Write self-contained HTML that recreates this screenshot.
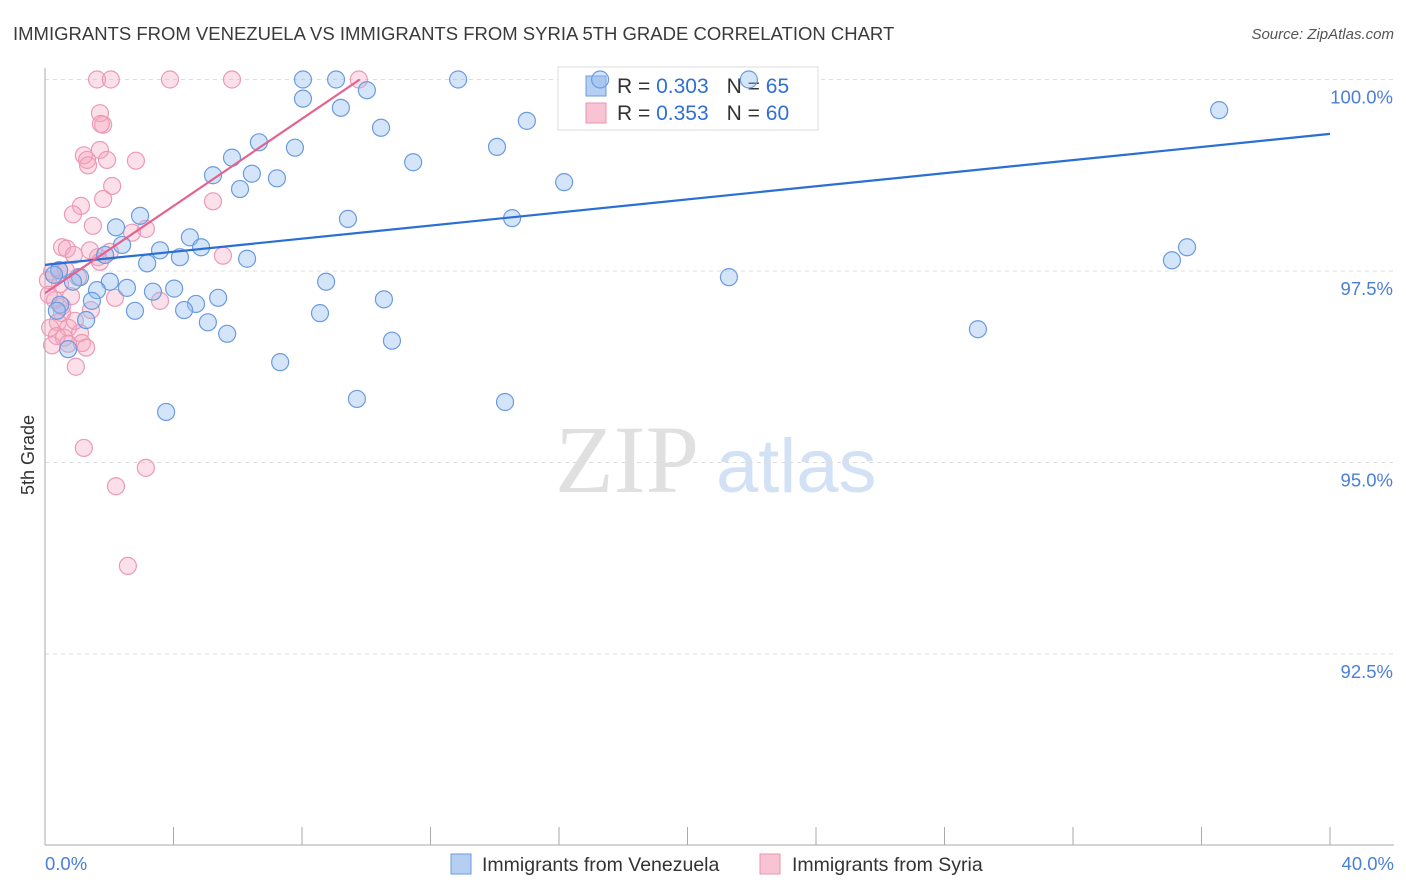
<!DOCTYPE html>
<html><head><meta charset="utf-8"><style>
body{margin:0;background:#fff;font-family:"Liberation Sans",sans-serif;}
svg{display:block}
</style></head><body>
<svg id="c" width="1406" height="892">
<text x="13" y="40" font-size="18.5" fill="#3a3a3a">IMMIGRANTS FROM VENEZUELA VS IMMIGRANTS FROM SYRIA 5TH GRADE CORRELATION CHART</text>
<text x="1394" y="39" font-size="15" fill="#555" font-style="italic" text-anchor="end">Source: ZipAtlas.com</text>
<text x="555" y="492" font-size="96" fill="#e0e0e0" font-family="Liberation Serif,serif">ZIP</text>
<text x="716" y="492" font-size="76" fill="#d2e1f4">atlas</text>
<text transform="translate(34,455) rotate(-90)" font-size="18" fill="#333" text-anchor="middle">5th Grade</text>
<g id="grid"></g>
<g>
<rect x="558" y="67" width="260" height="63" fill="#fff" stroke="#ddd"/>
<rect x="586" y="76" width="20" height="20" fill="#b5cff3" stroke="#6a9be0"/>
<rect x="586" y="103" width="20" height="20" fill="#f8c3d3" stroke="#e995b0"/>
<text x="617" y="93" font-size="21" fill="#333">R = <tspan fill="#2f6fd6">0.303</tspan><tspan dx="18">N = </tspan><tspan fill="#2f6fd6">65</tspan></text>
<text x="617" y="120" font-size="21" fill="#333">R = <tspan fill="#2f6fd6">0.353</tspan><tspan dx="18">N = </tspan><tspan fill="#2f6fd6">60</tspan></text>
</g>
<g id="pts"></g><g id="lines"></g>
<g>
<rect x="451" y="854" width="20" height="20" fill="#b5cff3" stroke="#6a9be0"/>
<text x="482" y="871" font-size="19.5" fill="#333">Immigrants from Venezuela</text>
<rect x="760" y="854" width="20" height="20" fill="#f8c3d3" stroke="#e995b0"/>
<text x="792" y="871" font-size="19.5" fill="#333">Immigrants from Syria</text>
</g>
<text x="45" y="870" font-size="18.5" fill="#4a7fd8">0.0%</text>
<text x="1394" y="870" font-size="18.5" fill="#4a7fd8" text-anchor="end">40.0%</text>
</svg>
<script>
const yTicks=[100,97.5,95,92.5];
const yTickLabels=["100.0%","97.5%","95.0%","92.5%"];
const blueX=[8.03,9.06,12.86,17.28,21.91,8.03,10.02,9.21,10.46,6.66,7.78,5.82,11.46,14.07,15.00,36.55,5.23,6.44,7.22,6.07,16.16,2.96,2.21,9.43,14.54,4.51,2.40,3.58,4.86,4.20,6.29,3.18,1.87,35.55,35.08,0.44,1.09,0.87,2.02,8.75,21.29,1.62,2.55,3.36,4.02,5.39,4.70,4.33,1.46,0.47,10.55,2.80,0.37,8.56,5.07,1.28,5.67,10.80,29.04,0.72,7.32,3.77,9.71,14.32,0.28];
const blueY=[100,100,100,100,100,99.75,99.86,99.63,99.37,99.18,99.11,98.98,98.92,99.12,99.46,99.60,98.75,98.77,98.71,98.57,98.66,98.22,98.07,98.18,98.19,97.94,97.84,97.77,97.81,97.68,97.66,97.60,97.71,97.81,97.64,97.51,97.42,97.36,97.36,97.36,97.42,97.25,97.28,97.23,97.27,97.15,97.07,96.99,97.11,97.06,97.13,96.98,96.98,96.95,96.83,96.86,96.68,96.59,96.74,96.48,96.31,95.66,95.83,95.79,97.45];
const pinkX=[1.62,2.05,3.89,5.82,9.77,1.71,1.81,1.74,1.21,1.31,1.71,1.93,1.34,2.83,2.09,1.81,5.23,1.12,0.87,1.49,3.14,2.71,0.53,0.68,0.90,1.40,2.02,1.65,5.54,1.71,0.44,0.22,0.65,0.47,0.81,1.03,0.31,2.18,3.58,1.43,0.53,0.40,0.72,1.09,0.16,0.37,0.59,1.15,1.28,0.72,0.22,0.96,1.21,3.14,2.21,2.58,0.09,0.12,0.53,0.93];
const pinkY=[100,100,100,100,100,99.56,99.41,99.42,99.01,98.95,99.08,98.95,98.88,98.94,98.61,98.44,98.41,98.35,98.24,98.09,98.05,98.00,97.81,97.79,97.71,97.77,97.75,97.68,97.70,97.62,97.51,97.49,97.51,97.33,97.17,97.42,97.12,97.15,97.11,96.99,96.95,96.83,96.76,96.69,96.76,96.65,96.63,96.56,96.50,96.55,96.53,96.25,95.19,94.93,94.69,93.65,97.38,97.19,97.04,96.85];
const blueTrend=[[0,97.58],[40,99.29]];
const pinkTrend=[[0,97.21],[9.8,100]];
const xTicks=[0,4,8,12,16,20,24,28,32,36,40];

const NS="http://www.w3.org/2000/svg";
const X=v=>45+v/40*1285;
const Y=v=>79.5+(100-v)*76.6;
function mk(tag,attrs,parent){const e=document.createElementNS(NS,tag);for(const k in attrs)e.setAttribute(k,attrs[k]);parent.appendChild(e);return e;}
const grid=document.getElementById('grid');
yTicks.forEach((t,i)=>{
  const l=mk('line',{x1:45,x2:1394,y1:Y(t),y2:Y(t),stroke:'#ddd','stroke-dasharray':'4,4'},grid);
  
  
  const tx=mk('text',{x:1393,y:Y(t)+24,'font-size':18.5,fill:'#4a7fd8','text-anchor':'end'},grid);
  tx.textContent=yTickLabels[i];
  
  
});
const ax=mk('line',{x1:45,x2:45,y1:68,y2:845,stroke:'#aaa'},grid);


const bx=mk('line',{x1:45,x2:1394,y1:845,y2:845,stroke:'#aaa'},grid);


xTicks.forEach(t=>{
  const l=mk('line',{x1:X(t),x2:X(t),y1:827,y2:845,stroke:'#aaa'},grid);
  
  
});
const pts=document.getElementById('pts');
function draw(xs,ys,fill,stroke,name){
  xs.forEach((v,i)=>{
    const c=mk('circle',{cx:X(v),cy:Y(ys[i]),r:8.5,fill:fill,stroke:stroke,'stroke-width':1.2},pts);
    
    
  });
}
draw(pinkX,pinkY,'rgba(245,165,192,0.35)','#eb9ab5','syria-point');
draw(blueX,blueY,'rgba(150,190,240,0.4)','#6a9be0','venezuela-point');
const lines=document.getElementById('lines');
const bl=mk('line',{x1:X(blueTrend[0][0]),y1:Y(blueTrend[0][1]),x2:X(blueTrend[1][0]),y2:Y(blueTrend[1][1]),stroke:'#2a6fd4','stroke-width':2.2},lines);


const pl=mk('line',{x1:X(pinkTrend[0][0]),y1:Y(pinkTrend[0][1]),x2:X(pinkTrend[1][0]),y2:Y(pinkTrend[1][1]),stroke:'#e3628f','stroke-width':2.2},lines);


</script>
</body></html>
